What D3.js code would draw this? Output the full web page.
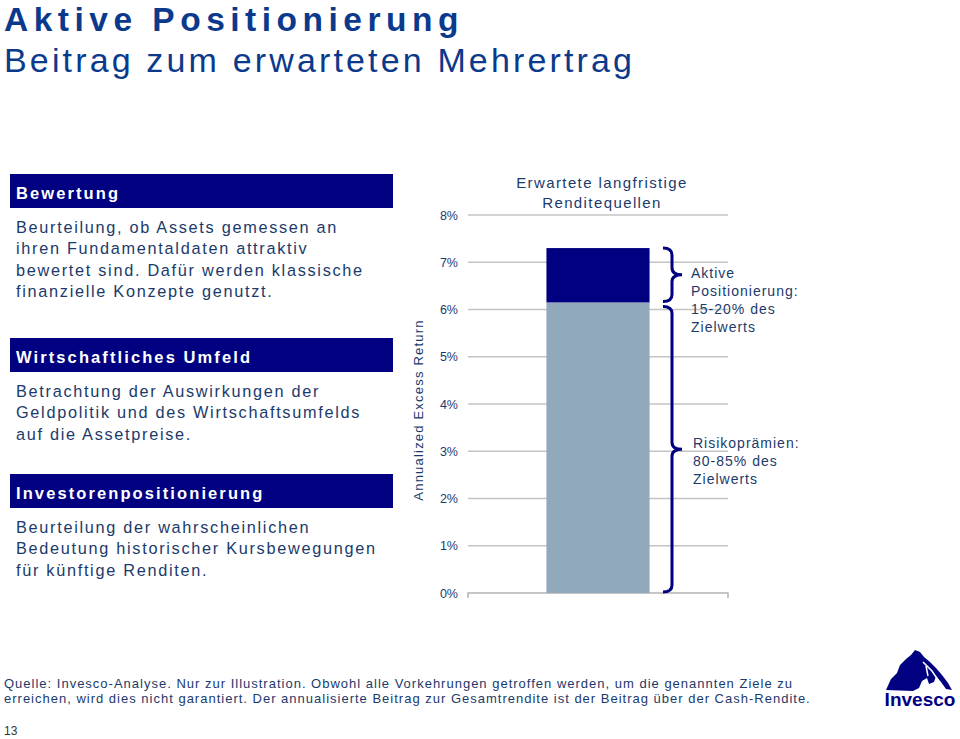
<!DOCTYPE html>
<html>
<head>
<meta charset="utf-8">
<script src="https://cdn.jsdelivr.net/npm/d3@7"></script>
<style>
  body { margin: 0; background: #fff; }
  svg { display: block; font-family: "Liberation Sans", Arial, sans-serif; }
</style>
</head>
<body>
<div id="chart"></div>
<script>
// chart data
const categories = ["Erwartete langfristige Renditequellen"];
const seriesNames = ["Risikoprämien", "Aktive Positionierung"];
const riskPremium = [6.15];
const activePositioning = [1.15];
const yTicks = [0, 1, 2, 3, 4, 5, 6, 7, 8];
const yTickLabels = ["0%", "1%", "2%", "3%", "4%", "5%", "6%", "7%", "8%"];

const chartTitle = ["Erwartete langfristige", "Renditequellen"];
const yLabel = "Annualized Excess Return";
const activeNote = ["Aktive", "Positionierung:", "15-20% des", "Zielwerts"];
const riskNote = ["Risikoprämien:", "80-85% des", "Zielwerts"];

const panelTitles = ["Bewertung", "Wirtschaftliches Umfeld", "Investorenpositionierung"];
const panelTexts = [
    ["Beurteilung, ob Assets gemessen an", "ihren Fundamentaldaten attraktiv", "bewertet sind. Dafür werden klassische", "finanzielle Konzepte genutzt."],
    ["Betrachtung der Auswirkungen der", "Geldpolitik und des Wirtschaftsumfelds", "auf die Assetpreise."],
    ["Beurteilung der wahrscheinlichen", "Bedeutung historischer Kursbewegungen", "für künftige Renditen."]
];
const footnote = [
    "Quelle: Invesco-Analyse. Nur zur Illustration. Obwohl alle Vorkehrungen getroffen werden, um die genannten Ziele zu",
    "erreichen, wird dies nicht garantiert. Der annualisierte Beitrag zur Gesamtrendite ist der Beitrag über der Cash-Rendite."
];

const navy = "#000080";
const textBlue = "#1b3a6b";
const titleBlue = "#0b3a8c";

const svg = d3.select("#chart")
    .append("svg")
    .attr("width", 960)
    .attr("height", 739);

// page title
svg.append("text")
    .attr("x", 4).attr("y", 30.5)
    .attr("fill", titleBlue)
    .style("font-size", "33.5px").style("font-weight", "bold").style("letter-spacing", "5.5px")
    .text("Aktive Positionierung");
svg.append("text")
    .attr("x", 4).attr("y", 72)
    .attr("fill", titleBlue)
    .style("font-size", "34px").style("letter-spacing", "3.15px")
    .text("Beitrag zum erwarteten Mehrertrag");

// left panels
const headerTops = [174, 338, 474];
panelTitles.forEach((t, i) => {
    const g = svg.append("g").attr("transform", `translate(0,${headerTops[i]})`);
    g.append("rect")
        .attr("x", 10).attr("y", 0)
        .attr("width", 383).attr("height", 34)
        .attr("fill", navy);
    g.append("text")
        .attr("x", 16).attr("y", 25)
        .attr("fill", "#fff")
        .style("font-size", "16.5px").style("font-weight", "bold").style("letter-spacing", "2.1px")
        .text(t);
    g.selectAll("text.body")
        .data(panelTexts[i])
        .enter().append("text")
        .attr("class", "body")
        .attr("x", 16)
        .attr("y", (d, j) => 59 + j * 21.4)
        .attr("fill", textBlue)
        .style("font-size", "16.3px").style("letter-spacing", "1.7px")
        .text(d => d);
});

// chart area
const x = d3.scaleBand()
    .domain(categories)
    .range([468, 728])
    .padding(0.432);

const y = d3.scaleLinear()
    .domain([0, 8])
    .range([593, 215]);

svg.append("g")
    .selectAll("line")
    .data(yTicks.slice(1))
    .enter().append("line")
    .attr("x1", 468).attr("x2", 728)
    .attr("y1", d => y(d)).attr("y2", d => y(d))
    .attr("stroke", "#c4c4c4").attr("stroke-width", 1.5);

// baseline with end ticks
svg.append("path")
    .attr("d", `M468,${y(0) + 5}V${y(0)}H728V${y(0) + 5}`)
    .attr("fill", "none")
    .attr("stroke", "#b4b4b4").attr("stroke-width", 1.5);

svg.append("g")
    .selectAll("text")
    .data(yTicks)
    .enter().append("text")
    .attr("x", 458)
    .attr("y", d => y(d) + 4.5)
    .attr("text-anchor", "end")
    .attr("fill", textBlue)
    .style("font-size", "12.5px")
    .text((d, i) => yTickLabels[i]);

svg.append("text")
    .attr("transform", "translate(423,410) rotate(-90)")
    .attr("text-anchor", "middle")
    .attr("fill", textBlue)
    .style("font-size", "13px").style("letter-spacing", "1.2px")
    .text(yLabel);

svg.append("g")
    .selectAll("text")
    .data(chartTitle)
    .enter().append("text")
    .attr("x", 602)
    .attr("y", (d, i) => 188 + i * 20)
    .attr("text-anchor", "middle")
    .attr("fill", textBlue)
    .style("font-size", "15px").style("letter-spacing", "1.4px")
    .text(d => d);

// stacked bar
const stackData = categories.map((c, i) => ({
    category: c,
    [seriesNames[0]]: riskPremium[i],
    [seriesNames[1]]: activePositioning[i]
}));
const color = d3.scaleOrdinal().domain(seriesNames).range(["#91a9bc", navy]);
const stacked = d3.stack().keys(seriesNames)(stackData);

svg.append("g")
    .selectAll("g")
    .data(stacked)
    .enter().append("g")
    .attr("fill", d => color(d.key))
    .selectAll("rect")
    .data(d => d)
    .enter().append("rect")
    .attr("x", d => x(d.data.category))
    .attr("y", d => y(d[1]))
    .attr("height", d => y(d[0]) - y(d[1]))
    .attr("width", x.bandwidth());

// curly braces
function brace(x0, top, bottom) {
    const xs = x0 + 9, tip = x0 + 19, mid = (top + bottom) / 2, r = 7;
    return `M${x0},${top}Q${xs},${top} ${xs},${top + r}V${mid - r}` +
        `Q${xs},${mid} ${tip},${mid}Q${xs},${mid} ${xs},${mid + r}` +
        `V${bottom - r}Q${xs},${bottom} ${x0},${bottom}`;
}
const total = riskPremium[0] + activePositioning[0];
svg.append("path")
    .attr("d", brace(663, y(total), y(riskPremium[0]) - 1))
    .attr("fill", "none").attr("stroke", navy).attr("stroke-width", 3);
svg.append("path")
    .attr("d", brace(663, y(riskPremium[0]) + 4, y(0) - 1))
    .attr("fill", "none").attr("stroke", navy).attr("stroke-width", 3);

svg.append("g")
    .selectAll("text")
    .data(activeNote)
    .enter().append("text")
    .attr("x", 691).attr("y", (d, i) => 278 + i * 18)
    .attr("fill", textBlue)
    .style("font-size", "14px").style("letter-spacing", "1px")
    .text(d => d);
svg.append("g")
    .selectAll("text")
    .data(riskNote)
    .enter().append("text")
    .attr("x", 693).attr("y", (d, i) => 448 + i * 18)
    .attr("fill", textBlue)
    .style("font-size", "14px").style("letter-spacing", "1px")
    .text(d => d);

// footnote and page number
svg.append("g")
    .selectAll("text")
    .data(footnote)
    .enter().append("text")
    .attr("x", 4).attr("y", (d, i) => 688 + i * 15)
    .attr("fill", textBlue)
    .style("font-size", "13px").style("letter-spacing", "1px")
    .text(d => d);
svg.append("text")
    .attr("x", 4).attr("y", 735)
    .attr("fill", "#333")
    .style("font-size", "12px")
    .text("13");

// logo
const logo = svg.append("g");
logo.append("path")
    .attr("d", "M886,690 L891,679 L897,673 L900,665 L906,659 L911,655 L915,650 L920,652 L924,657 " +
        "L930,662 L936,668 L942,675 L948,683 L952,690 L946,689 L941,682 L936,676 L934,682 L929,684 " +
        "L927,678 L922,681 L919,688 L913,691 Z")
    .attr("fill", navy);
logo.append("path")
    .attr("d", "M923,662 L932,671 L938,680 M926,666 L928,676")
    .attr("fill", "none").attr("stroke", "#fff").attr("stroke-width", 1.5);
logo.append("text")
    .attr("x", 920).attr("y", 706)
    .attr("text-anchor", "middle")
    .attr("fill", navy)
    .style("font-size", "19px").style("font-weight", "bold")
    .text("Invesco");
</script>
</body>
</html>
